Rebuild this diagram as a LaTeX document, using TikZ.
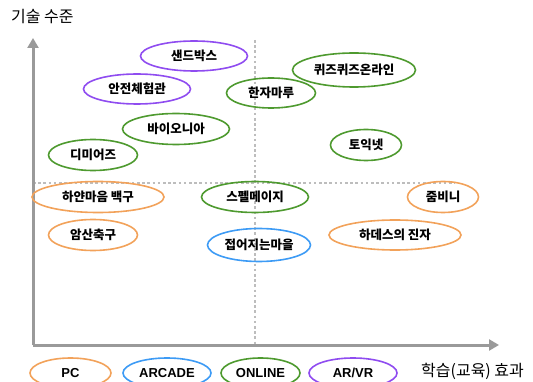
\documentclass[tikz,border=0pt]{standalone}
\usepackage{fontspec}
\setmainfont{Noto Sans CJK KR}
\newfontfamily\latinb{Liberation Sans}
\usetikzlibrary{shapes.geometric,arrows.meta}
\definecolor{cPC}{HTML}{F2A25A}
\definecolor{cAR}{HTML}{3D9BF5}
\definecolor{cON}{HTML}{4E9A2F}
\definecolor{cVR}{HTML}{8F4CF0}
\definecolor{axisgray}{HTML}{9A9A9A}
\definecolor{dotgray}{HTML}{BDBDBD}
\tikzset{
  game/.style={ellipse, draw, line width=1.6pt, inner sep=0pt, font=\fontsize{12.5}{14}\selectfont\bfseries, text=black},
  leg/.style={game, font=\fontsize{13}{15}\selectfont\latinb\bfseries},
  axis/.style={draw=axisgray, line width=3pt},
  guide/.style={draw=dotgray, line width=2.6pt, dash pattern=on 2.6pt off 2.6pt},
  title/.style={font=\fontsize{16}{18}\selectfont, text=black, inner sep=0pt}
}
\begin{document}
\begin{tikzpicture}[x=1pt,y=-1pt]
\useasboundingbox (0,0) rectangle (533,382);
% guides
\coordinate (vtop) at (255,40);
\coordinate (vbot) at (255,345);
\coordinate (hl) at (33,183);
\coordinate (hr) at (455,183);
\draw[guide] (vtop) -- (vbot);
\draw[guide] (hl) -- (hr);
% axes
\coordinate (origin) at (33,345);
\coordinate (ytip) at (33,38);
\coordinate (xtip) at (499,345);
\draw[axis, -{Triangle[length=10pt,width=11pt]}] (origin) -- (ytip);
\draw[axis, -{Triangle[length=10pt,width=11pt]}] (origin) -- (xtip);
% titles
\node[title, anchor=west] (ylab) at (11,17) {기술 수준};
\node[title, anchor=west] (xlab) at (421,371) {학습(교육) 효과};
% games
\node[game, draw=cVR, minimum width=107pt, minimum height=30pt] (sand) at (194,56) {샌드박스};
\node[game, draw=cVR, minimum width=107pt, minimum height=30pt] (safe) at (137,89) {안전체험관};
\node[game, draw=cON, minimum width=89pt, minimum height=30pt] (hanja) at (271,93) {한자마루};
\node[game, draw=cON, minimum width=123pt, minimum height=34pt] (quiz) at (354,70) {퀴즈퀴즈온라인};
\node[game, draw=cON, minimum width=107pt, minimum height=31pt] (bio) at (176,129) {바이오니아};
\node[game, draw=cON, minimum width=89pt, minimum height=31pt] (dimi) at (93,155) {디미어즈};
\node[game, draw=cON, minimum width=71pt, minimum height=31pt] (toeic) at (366,145) {토익넷};
\node[game, draw=cPC, minimum width=132pt, minimum height=31pt] (baek) at (98,197) {하얀마음 백구};
\node[game, draw=cON, minimum width=107pt, minimum height=31pt] (spell) at (255,197) {스펠메이지};
\node[game, draw=cPC, minimum width=71pt, minimum height=31pt] (zoom) at (443,197) {줌비니};
\node[game, draw=cPC, minimum width=89pt, minimum height=31pt] (amsan) at (93,235) {암산축구};
\node[game, draw=cAR, minimum width=103pt, minimum height=33pt] (fold) at (259,245) {접어지는마을};
\node[game, draw=cPC, minimum width=132pt, minimum height=30pt] (hades) at (395,235) {하데스의 진자};
% legend
\node[leg, draw=cPC, minimum width=81pt, minimum height=30pt] (lpc) at (70.5,373) {PC};
\node[leg, draw=cAR, minimum width=88pt, minimum height=30pt] (lar) at (167,373) {ARCADE};
\node[leg, draw=cON, minimum width=79pt, minimum height=30pt] (lon) at (260.5,373) {ONLINE};
\node[leg, draw=cVR, minimum width=88pt, minimum height=30pt] (lvr) at (353,373) {AR/VR};
\end{tikzpicture}
\end{document}
